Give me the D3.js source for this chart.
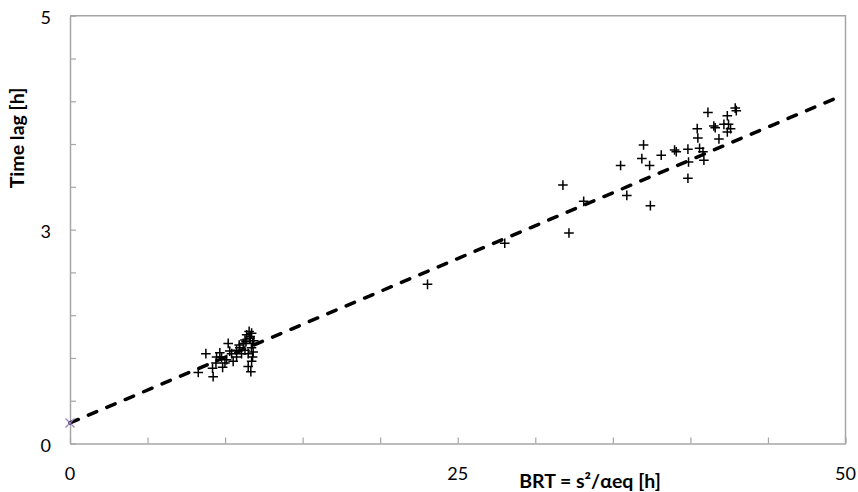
<!DOCTYPE html>
<html>
<head>
<meta charset="utf-8">
<script src="https://cdn.jsdelivr.net/npm/d3@7"></script>
<style>
  body { margin:0; background:#fff; }
  text { font-family: Lato, "Open Sans", sans-serif; }
</style>
</head>
<body>
<div id="chart"></div>
<script>
// measured points (BRT [h], time lag [h])
var brt = [
  8.27, 8.76, 9.23, 9.19, 9.66, 9.84, 10.20, 9.77, 9.45, 10.10,
  10.42, 10.74, 10.91, 11.17, 11.39, 11.60, 11.71, 11.77, 11.81, 11.77,
  11.71, 11.49, 11.66, 11.06, 11.28, 10.74, 10.52, 9.99, 9.41, 11.49,
  11.28, 11.55, 11.35, 11.70, 10.95, 11.62, 11.85, 10.30,
  23.05, 28.03, 31.78, 33.12, 32.17,
  35.50, 35.90, 36.87, 36.98, 37.37, 37.42, 38.12, 38.98, 39.09, 39.84,
  39.88, 39.84, 40.59, 40.81, 40.87, 40.44, 40.48, 41.13, 41.51, 41.60,
  41.84, 42.16, 42.46, 42.59, 42.38, 42.38, 42.89, 42.96
];
var lag = [
  0.83, 1.05, 0.78, 0.88, 1.06, 0.89, 1.17, 1.01, 1.01, 0.98,
  1.05, 1.09, 1.15, 1.17, 1.27, 1.23, 1.29, 1.17, 1.07, 1.01,
  0.96, 0.90, 0.84, 1.05, 1.09, 1.01, 0.96, 0.94, 0.94, 1.05,
  1.21, 1.31, 1.19, 1.12, 1.12, 1.25, 1.20, 1.08,
  1.86, 2.34, 3.02, 2.83, 2.46,
  3.25, 2.90, 3.33, 3.49, 3.25, 2.78, 3.37, 3.43, 3.41, 3.44,
  3.29, 3.10, 3.45, 3.41, 3.31, 3.68, 3.57, 3.87, 3.71, 3.69,
  3.56, 3.73, 3.73, 3.68, 3.64, 3.83, 3.92, 3.89
];
// dashed fit line end points
var fitX = [0, 49.7];
var fitY = [0.24, 4.06];
// intercept marker
var originX = [0];
var originY = [0.24];

var xTicks = [0,5,10,15,20,25,30,35,40,45,50];
var xLabels = [0,25,50];
var yTicks = [0,0.5,1,1.5,2,2.5,3,3.5,4,4.5,5];
var yLabelVals = [0,2.5,5];
var yLabelText = ["0","3","5"];

const W = 858, H = 492;
var margin = {left:70, right:12.5, top:15.7, bottom:48.5};

const svg = d3.select("#chart").append("svg")
  .attr("width",W).attr("height",H);

var x = d3.scaleLinear().domain([0,50]).range([margin.left, W-margin.right]);
var y = d3.scaleLinear().domain([0,5]).range([H-margin.bottom, margin.top]);

var axisCol = "#a6a6a6";

// plot frame (top + right)
svg.append("path")
  .attr("d","M"+x(0)+","+y(5)+"H"+x(50)+"V"+y(0))
  .attr("fill","none").attr("stroke",axisCol).attr("stroke-width",1.5);

// x axis, ticks inside
var gx = svg.append("g")
  .attr("transform","translate(0,"+y(0)+")")
  .call(d3.axisBottom(x).tickValues(xTicks).tickSizeInner(-6).tickSizeOuter(0).tickFormat(""));
var gy = svg.append("g")
  .attr("transform","translate("+x(0)+",0)")
  .call(d3.axisLeft(y).tickValues(yTicks).tickSizeInner(-6).tickSizeOuter(0).tickFormat(""));
[gx,gy].forEach(g=>{
  g.select(".domain").attr("stroke",axisCol).attr("stroke-width",1.5);
  g.selectAll(".tick line").attr("stroke",axisCol).attr("stroke-width",1.2);
});

// tick labels
svg.selectAll(".xlab").data(xLabels).enter().append("text")
  .attr("class","xlab")
  .attr("x",d=>x(d)).attr("y",480)
  .attr("text-anchor","middle")
  .attr("font-size",18).attr("fill","#000")
  .text(d=>d);
svg.selectAll(".ylab").data(yLabelVals).enter().append("text")
  .attr("class","ylab")
  .attr("x",x(0)-19).attr("y",d=>y(d)+8.5)
  .attr("text-anchor","end")
  .attr("font-size",18).attr("fill","#000")
  .text((d,i)=>yLabelText[i]);

// axis titles
svg.append("text")
  .attr("x",590).attr("y",488)
  .attr("text-anchor","middle")
  .attr("font-size",19.5).attr("font-weight","bold")
  .text("BRT = s²/αeq [h]");
svg.append("text")
  .attr("transform","translate(24,138) rotate(-90)")
  .attr("text-anchor","middle")
  .attr("font-size",19.5).attr("font-weight","bold")
  .text("Time lag [h]");

// fit line
var fitPts = fitX.map((v,i)=>[v,fitY[i]]);
svg.append("path")
  .attr("d", d3.line().x(d=>x(d[0])).y(d=>y(d[1]))(fitPts))
  .attr("fill","none").attr("stroke","#000")
  .attr("stroke-width",3.5)
  .attr("stroke-dasharray","9,11")
  .attr("stroke-linecap","round");

// data crosses
var pts = brt.map((v,i)=>[v,lag[i]]);
var s = 4.8;
svg.selectAll(".pt").data(pts).enter().append("path")
  .attr("class","pt")
  .attr("transform",d=>"translate("+x(d[0])+","+y(d[1])+")")
  .attr("d","M"+(-s)+",0H"+s+"M0,"+(-s)+"V"+s)
  .attr("stroke","#000").attr("stroke-width",1.5);

// intercept marker
var q = 4.5;
svg.selectAll(".org").data(originX.map((v,i)=>[v,originY[i]])).enter().append("path")
  .attr("class","org")
  .attr("transform",d=>"translate("+x(d[0])+","+y(d[1])+")")
  .attr("d","M"+(-q)+","+(-q)+"L"+q+","+q+"M"+(-q)+","+q+"L"+q+","+(-q))
  .attr("stroke","#9b7fc4").attr("stroke-width",1.2);
</script>
</body>
</html>
